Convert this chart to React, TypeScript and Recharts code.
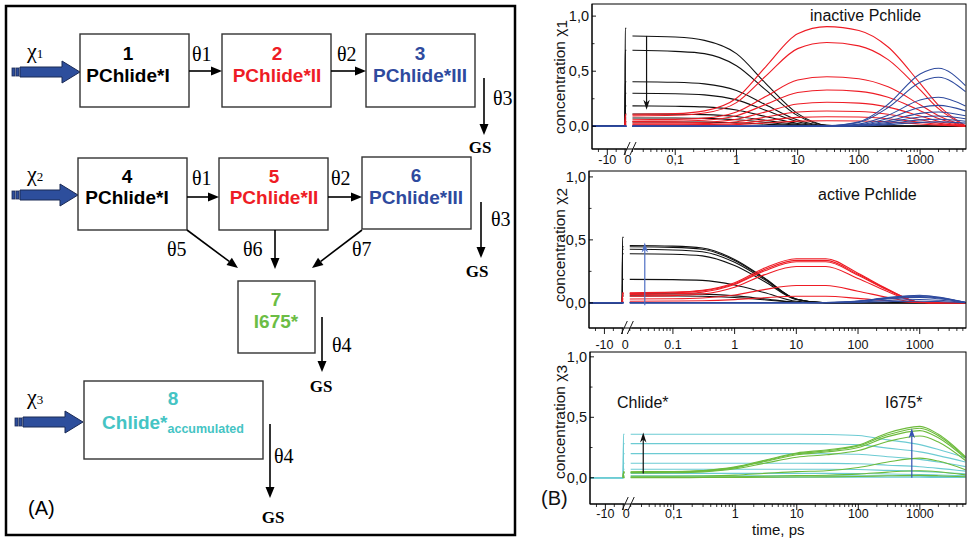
import React from "react";
import { LineChart, Line, XAxis, YAxis, ReferenceLine } from "recharts";

// Broken time axis: linear for t <= 0 ps, log10 after the break.
const LIN_ZERO = -1.82;
const LIN_SLOPE = 0.029;
const U_MIN = -2.36;
const U_MAX = 3.75;
const linU = (t: number) => LIN_ZERO + t * LIN_SLOPE;
const timeToU = (t: number) => (t <= 0 ? linU(t) : Math.log10(t));

const SANS = "'Liberation Sans', Arial, sans-serif";
const SERIF = "'Liberation Serif', 'Times New Roman', serif";

const BLACK = "#111111";
const RED = "#ee1c25";
const BLUE = "#2e4a9e";
const CYAN = "#6ccbd3";
const GREEN = "#6dbb3c";

// time points of the log part (ps)
const logTimes = [0.02, 0.1, 0.3, 1, 3, 10, 30, 100, 300, 1000, 2000, 5500];

// inactive Pchlide (chi 1)
const inactiveSpike = 0.89;
const inactiveBlack = [
  [0.82, 0.81, 0.78, 0.66, 0.39, 0.115, 0.01, 0, 0, 0, 0, 0],
  [0.69, 0.68, 0.66, 0.55, 0.33, 0.097, 0.008, 0, 0, 0, 0, 0],
  [0.405, 0.4, 0.385, 0.325, 0.195, 0.057, 0.005, 0, 0, 0, 0, 0],
  [0.3, 0.296, 0.285, 0.24, 0.145, 0.042, 0.004, 0, 0, 0, 0, 0],
  [0.185, 0.182, 0.176, 0.148, 0.089, 0.026, 0.002, 0, 0, 0, 0, 0],
  [0.112, 0.11, 0.106, 0.089, 0.054, 0.016, 0.001, 0, 0, 0, 0, 0],
  [0.076, 0.075, 0.072, 0.06, 0.036, 0.011, 0.001, 0, 0, 0, 0, 0],
  [0.04, 0.039, 0.038, 0.032, 0.019, 0.006, 0, 0, 0, 0, 0, 0],
];
const inactiveRed = [
  [0.11, 0.115, 0.14, 0.255, 0.54, 0.84, 0.905, 0.87, 0.72, 0.39, 0.19, 0.005],
  [0.095, 0.1, 0.12, 0.215, 0.455, 0.705, 0.76, 0.73, 0.605, 0.33, 0.16, 0.004],
  [0.06, 0.063, 0.074, 0.13, 0.27, 0.42, 0.45, 0.432, 0.358, 0.195, 0.095, 0.003],
  [0.045, 0.047, 0.055, 0.096, 0.198, 0.307, 0.33, 0.317, 0.263, 0.142, 0.07, 0.002],
  [0.03, 0.031, 0.037, 0.064, 0.131, 0.203, 0.218, 0.21, 0.174, 0.094, 0.046, 0.001],
  [0.02, 0.021, 0.024, 0.041, 0.084, 0.13, 0.139, 0.134, 0.11, 0.06, 0.029, 0.001],
  [0.012, 0.013, 0.015, 0.026, 0.053, 0.081, 0.087, 0.084, 0.069, 0.037, 0.018, 0],
  [0.007, 0.007, 0.009, 0.015, 0.03, 0.047, 0.05, 0.048, 0.04, 0.021, 0.011, 0],
];
const inactiveBlue = [
  [0, 0, 0, 0, 0, 0, 0.004, 0.04, 0.2, 0.475, 0.527, 0.37],
  [0, 0, 0, 0, 0, 0, 0.003, 0.034, 0.17, 0.4, 0.445, 0.315],
  [0, 0, 0, 0, 0, 0, 0.002, 0.02, 0.1, 0.238, 0.264, 0.185],
  [0, 0, 0, 0, 0, 0, 0.0015, 0.014, 0.072, 0.171, 0.19, 0.14],
  [0, 0, 0, 0, 0, 0, 0.001, 0.01, 0.05, 0.117, 0.13, 0.095],
  [0, 0, 0, 0, 0, 0, 0.001, 0.007, 0.036, 0.085, 0.094, 0.068],
  [0, 0, 0, 0, 0, 0, 0, 0.005, 0.024, 0.058, 0.064, 0.046],
  [0, 0, 0, 0, 0, 0, 0, 0.003, 0.015, 0.036, 0.04, 0.029],
];

// active Pchlide (chi 2)
const activeSpike = 0.52;
const activeBlack = [
  [0.455, 0.45, 0.435, 0.345, 0.2, 0.03, 0, 0, 0, 0, 0, 0],
  [0.445, 0.44, 0.425, 0.337, 0.195, 0.029, 0, 0, 0, 0, 0, 0],
  [0.425, 0.42, 0.406, 0.322, 0.186, 0.028, 0, 0, 0, 0, 0, 0],
  [0.39, 0.386, 0.373, 0.296, 0.171, 0.026, 0, 0, 0, 0, 0, 0],
  [0.186, 0.184, 0.178, 0.141, 0.082, 0.012, 0, 0, 0, 0, 0, 0],
  [0.072, 0.071, 0.069, 0.055, 0.032, 0.005, 0, 0, 0, 0, 0, 0],
  [0.055, 0.054, 0.052, 0.042, 0.024, 0.004, 0, 0, 0, 0, 0, 0],
];
const activeRed = [
  [0.08, 0.085, 0.1, 0.16, 0.275, 0.35, 0.35, 0.235, 0.11, 0.005, 0, 0],
  [0.075, 0.08, 0.095, 0.152, 0.262, 0.337, 0.337, 0.226, 0.106, 0.005, 0, 0],
  [0.066, 0.07, 0.085, 0.145, 0.252, 0.326, 0.326, 0.219, 0.102, 0.005, 0, 0],
  [0.053, 0.057, 0.07, 0.124, 0.222, 0.288, 0.288, 0.193, 0.09, 0.004, 0, 0],
  [0.03, 0.032, 0.038, 0.062, 0.105, 0.137, 0.137, 0.092, 0.043, 0.002, 0, 0],
  [0.013, 0.014, 0.016, 0.025, 0.04, 0.052, 0.052, 0.035, 0.016, 0.001, 0, 0],
];
const activeBlue = [
  [0, 0, 0, 0, 0, 0, 0.002, 0.014, 0.042, 0.06, 0.045, 0.004],
  [0, 0, 0, 0, 0, 0, 0.002, 0.013, 0.039, 0.056, 0.042, 0.004],
  [0, 0, 0, 0, 0, 0, 0.002, 0.012, 0.035, 0.05, 0.038, 0.003],
  [0, 0, 0, 0, 0, 0, 0.001, 0.01, 0.03, 0.043, 0.032, 0.003],
  [0, 0, 0, 0, 0, 0, 0.001, 0.006, 0.018, 0.026, 0.02, 0.002],
  [0, 0, 0, 0, 0, 0, 0, 0.003, 0.009, 0.013, 0.01, 0.001],
];

// Chlide* and I675* (chi 3)
const chlideCyan = [
  [0.36, 0.36, 0.36, 0.36, 0.36, 0.36, 0.358, 0.35, 0.313, 0.274, 0.234, 0.166],
  [0.282, 0.282, 0.282, 0.282, 0.282, 0.282, 0.28, 0.273, 0.245, 0.214, 0.183, 0.13],
  [0.2, 0.2, 0.2, 0.2, 0.2, 0.2, 0.199, 0.194, 0.174, 0.152, 0.13, 0.092],
  [0.12, 0.12, 0.12, 0.12, 0.12, 0.12, 0.119, 0.116, 0.104, 0.091, 0.078, 0.055],
  [0.07, 0.07, 0.07, 0.07, 0.07, 0.07, 0.07, 0.068, 0.061, 0.053, 0.046, 0.032],
  [0.036, 0.036, 0.036, 0.036, 0.036, 0.036, 0.036, 0.035, 0.031, 0.027, 0.023, 0.017],
  [0.017, 0.017, 0.017, 0.017, 0.017, 0.017, 0.017, 0.016, 0.015, 0.013, 0.011, 0.008],
  [0.005, 0.005, 0.005, 0.005, 0.005, 0.005, 0.005, 0.005, 0.004, 0.004, 0.003, 0.002],
];
const chlideGreen = [
  [0.05, 0.052, 0.06, 0.09, 0.145, 0.205, 0.23, 0.27, 0.37, 0.425, 0.36, 0.175],
  [0.047, 0.049, 0.057, 0.086, 0.14, 0.198, 0.222, 0.262, 0.355, 0.41, 0.348, 0.168],
  [0.044, 0.046, 0.054, 0.082, 0.134, 0.19, 0.213, 0.25, 0.34, 0.39, 0.33, 0.16],
  [0.04, 0.042, 0.049, 0.074, 0.12, 0.17, 0.19, 0.225, 0.3, 0.345, 0.295, 0.143],
  [0.012, 0.013, 0.015, 0.022, 0.036, 0.051, 0.058, 0.085, 0.13, 0.162, 0.138, 0.067],
  [0.004, 0.004, 0.005, 0.008, 0.012, 0.018, 0.021, 0.03, 0.047, 0.058, 0.05, 0.024],
  [0.001, 0.001, 0.002, 0.003, 0.004, 0.006, 0.007, 0.01, 0.016, 0.02, 0.017, 0.008],
];

// arrows inside the panels: [time ps, from, to]
const inactiveArrow = [0.034, 0.82, 0.15];
const activeArrow = [0.035, -0.02, 0.48];
const chlideArrow = [0.032, 0.035, 0.375];
const i675Arrow = [740, 0.0, 0.41];

// axis ticks
const majorTimes = [-10, 0, 0.1, 1, 10, 100, 1000];
const commaLabels = ["-10", "0", "0,1", "1", "10", "100", "1000"];
const dotLabels = ["-10", "0", "0.1", "1", "10", "100", "1000"];
const linearMinorTimes = [-15, -5];
const yMajor = [0, 0.5, 1];
const yLabels = ["0,0", "0,5", "1,0"];
const yMinor = [0.25, 0.75];

const logMinorTimes: number[] = [];
for (const dec of [0.01, 0.1, 1, 10, 100, 1000]) {
  for (let m = 2; m <= 9; m++) {
    const t = +(m * dec).toPrecision(3);
    if (t >= 0.02 && t <= 5600) logMinorTimes.push(t);
  }
}
const majorU = majorTimes.map(timeToU);
const xTicks = [...majorU, ...linearMinorTimes.map(timeToU), ...logMinorTimes.map(timeToU)].sort((a, b) => a - b);
const yTicks = [...yMajor, ...yMinor].sort((a, b) => a - b);

type Group = { id: string; color: string; curves: number[][]; spike?: number; fromZero?: boolean };

function buildRows(groups: Group[]) {
  const rows: Record<string, number | null>[] = [];
  const fill = (u: number, value: (g: Group, c: number[], i: number) => number | null) => {
    const row: Record<string, number | null> = { u };
    groups.forEach((g) => g.curves.forEach((c, i) => (row[g.id + i] = value(g, c, i))));
    rows.push(row);
  };
  fill(linU(-20), (g) => (g.fromZero ? null : 0));
  fill(linU(0), () => 0);
  fill(linU(0.1), (g, c, i) => (i === 0 && g.spike != null ? g.spike : c[0]));
  fill(linU(0.7), (g, c, i) => (i === 0 && g.spike != null ? g.spike : c[0]));
  fill((linU(0.7) + Math.log10(logTimes[0])) / 2, () => null); // axis break
  logTimes.forEach((t, k) => fill(Math.log10(t), (g, c) => c[k]));
  return rows;
}

function makeXTick(labels: string[], gap: number) {
  return (props: any) => {
    const { x, y, payload } = props;
    const idx = majorU.findIndex((u) => Math.abs(u - payload.value) < 1e-6);
    if (idx < 0) return <line x1={x} x2={x} y1={y} y2={y + 3} stroke="#000" strokeWidth={0.8} />;
    const isZero = labels[idx] === "0";
    return (
      <g>
        <line x1={x} x2={x} y1={y} y2={y + 6} stroke="#000" strokeWidth={0.9} />
        {isZero && (
          <g>
            <rect x={x + 1} y={y - 2} width={8} height={4} fill="#fff" />
            <line x1={x - 1} y1={y + 6} x2={x + 5} y2={y - 7} stroke="#000" strokeWidth={0.9} />
            <line x1={x + 5} y1={y + 6} x2={x + 11} y2={y - 7} stroke="#000" strokeWidth={0.9} />
          </g>
        )}
        <text x={x + (isZero ? 3 : 0)} y={y + gap} textAnchor="middle" fontSize={12.5} fontFamily={SANS} fill="#111">
          {labels[idx]}
        </text>
      </g>
    );
  };
}

function YTick(props: any) {
  const { x, y, payload } = props;
  const idx = yMajor.findIndex((v) => Math.abs(v - payload.value) < 1e-6);
  if (idx < 0) return <line x1={x} x2={x + 2.5} y1={y} y2={y} stroke="#000" strokeWidth={0.8} />;
  return (
    <g>
      <line x1={x} x2={x + 4} y1={y} y2={y} stroke="#000" strokeWidth={0.9} />
      <text x={x - 3} y={y + 5} textAnchor="end" fontSize={14.5} fontFamily={SANS} fill="#111">
        {yLabels[idx]}
      </text>
    </g>
  );
}

function ArrowShape(props: any) {
  const { x1, y1, x2, y2, stroke } = props;
  const dir = y2 > y1 ? 1 : -1;
  return (
    <g>
      <line x1={x1} y1={y1} x2={x2} y2={y2 - dir * 4} stroke={stroke} strokeWidth={1.2} />
      <polygon
        points={`${x2},${y2} ${x2 - 3.2},${y2 - dir * 10} ${x2},${y2 - dir * 7} ${x2 + 3.2},${y2 - dir * 10}`}
        fill={stroke}
      />
    </g>
  );
}

type PanelProps = {
  top: number;
  height: number;
  plotTop: number;
  plotBottom: number;
  plotLeft: number;
  yDomain: [number, number];
  groups: Group[];
  labels: string[];
  labelGap: number;
  arrows: { spec: number[]; color: string }[];
};

const CHART_LEFT = 540;
const CHART_WIDTH = 428;
const PLOT_RIGHT = 966;

function Panel(p: PanelProps) {
  const rows = buildRows(p.groups);
  return (
    <div style={{ position: "absolute", left: CHART_LEFT, top: p.top }}>
      <LineChart
        width={CHART_WIDTH}
        height={p.height}
        data={rows}
        margin={{ top: p.plotTop - p.top, right: CHART_LEFT + CHART_WIDTH - PLOT_RIGHT, left: 0, bottom: 0 }}
      >
        <XAxis
          dataKey="u"
          type="number"
          domain={[U_MIN, U_MAX]}
          allowDataOverflow
          ticks={xTicks}
          interval={0}
          tickSize={0}
          tickMargin={0}
          tick={makeXTick(p.labels, p.labelGap)}
          height={p.top + p.height - p.plotBottom}
          stroke="#000"
        />
        <YAxis
          type="number"
          domain={p.yDomain}
          allowDataOverflow
          ticks={yTicks}
          interval={0}
          width={p.plotLeft - CHART_LEFT}
          tickSize={0}
          tickMargin={0}
          tick={YTick}
          stroke="#000"
        />
        {p.groups.flatMap((g) =>
          g.curves.map((_, i) => (
            <Line
              key={g.id + i}
              dataKey={g.id + i}
              type="monotone"
              stroke={g.color}
              strokeWidth={1.1}
              dot={false}
              activeDot={false}
              connectNulls={false}
              isAnimationActive={false}
            />
          ))
        )}
        {p.arrows.map((a, i) => (
          <ReferenceLine
            key={"arrow" + i}
            segment={[
              { x: timeToU(a.spec[0]), y: a.spec[1] },
              { x: timeToU(a.spec[0]), y: a.spec[2] },
            ]}
            stroke={a.color}
            shape={ArrowShape}
          />
        ))}
      </LineChart>
    </div>
  );
}

function Arrow({ x1, y1, x2, y2 }: { x1: number; y1: number; x2: number; y2: number }) {
  const ang = Math.atan2(y2 - y1, x2 - x1);
  const len = 11;
  const w = 4.5;
  const bx = x2 - len * Math.cos(ang);
  const by = y2 - len * Math.sin(ang);
  const px = -Math.sin(ang) * w;
  const py = Math.cos(ang) * w;
  return (
    <g>
      <line x1={x1} y1={y1} x2={bx} y2={by} stroke="#000" strokeWidth={1.6} />
      <polygon points={`${x2},${y2} ${bx + px},${by + py} ${bx - px},${by - py}`} fill="#000" />
    </g>
  );
}

function InputArrow({ x0, x1, cy }: { x0: number; x1: number; cy: number }) {
  return (
    <g fill="#2d4e9c" stroke="#1b2a55" strokeWidth={0.8}>
      <rect x={x0} y={cy - 4} width={3} height={8} />
      <rect x={x0 + 4} y={cy - 4} width={3} height={8} />
      <polygon
        points={`${x0 + 8},${cy - 5} ${x1 - 18},${cy - 5} ${x1 - 18},${cy - 11} ${x1},${cy} ${x1 - 18},${cy + 11} ${x1 - 18},${cy + 5} ${x0 + 8},${cy + 5}`}
        strokeWidth={1}
      />
    </g>
  );
}

function Box({ x, y, w, h }: { x: number; y: number; w: number; h: number }) {
  return <rect x={x} y={y} width={w} height={h} fill="#fff" stroke="#333" strokeWidth={1.4} />;
}

function BoxText({ x, y1, y2, num, name, color }: { x: number; y1: number; y2: number; num: string; name: string; color: string }) {
  return (
    <g fontFamily={SANS} fontWeight="bold" fontSize={19} fill={color} textAnchor="middle">
      <text x={x} y={y1}>{num}</text>
      <text x={x} y={y2}>{name}</text>
    </g>
  );
}

function Theta({ x, y, n }: { x: number; y: number; n: string }) {
  return (
    <text x={x} y={y} fontFamily={SERIF} fontSize={20} fill="#000">
      θ{n}
    </text>
  );
}

function GS({ x, y }: { x: number; y: number }) {
  return (
    <text x={x} y={y} fontFamily={SERIF} fontWeight="bold" fontSize={17} textAnchor="middle" fill="#000">
      GS
    </text>
  );
}

function Chi({ x, y, n }: { x: number; y: number; n: string }) {
  return (
    <text x={x} y={y} fontFamily={SERIF} fontSize={22} fill="#000">
      χ<tspan fontSize={13}>{n}</tspan>
    </text>
  );
}

function Scheme() {
  return (
    <g>
      <rect x={6} y={6} width={509} height={529} fill="none" stroke="#000" strokeWidth={2.5} />

      <InputArrow x0={12} x1={80} cy={72} />
      <Chi x={27} y={58} n="1" />
      <Box x={80} y={34} w={109} h={73} />
      <Box x={222} y={34} w={109} h={73} />
      <Box x={366} y={34} w={109} h={73} />
      <BoxText x={128} y1={60} y2={82} num="1" name="PChlide*I" color="#000" />
      <BoxText x={277} y1={60} y2={82} num="2" name="PChlide*II" color={RED} />
      <BoxText x={420} y1={60} y2={82} num="3" name="PChlide*III" color={BLUE} />
      <Arrow x1={189} y1={71} x2={222} y2={71} />
      <Arrow x1={331} y1={71} x2={366} y2={71} />
      <Theta x={192} y={61} n="1" />
      <Theta x={337} y={61} n="2" />
      <Arrow x1={484} y1={78} x2={484} y2={135} />
      <Theta x={493} y={105} n="3" />
      <GS x={480} y={153} />

      <InputArrow x0={12} x1={78} cy={195} />
      <Chi x={27} y={181} n="2" />
      <Box x={78} y={158} w={109} h={72} />
      <Box x={219} y={158} w={109} h={72} />
      <Box x={362} y={157} w={109} h={72} />
      <BoxText x={127} y1={183} y2={204} num="4" name="PChlide*I" color="#000" />
      <BoxText x={274} y1={183} y2={204} num="5" name="PChlide*II" color={RED} />
      <BoxText x={416} y1={182} y2={204} num="6" name="PChlide*III" color={BLUE} />
      <Arrow x1={187} y1={197} x2={219} y2={197} />
      <Arrow x1={328} y1={197} x2={362} y2={197} />
      <Theta x={192} y={185} n="1" />
      <Theta x={331} y={185} n="2" />
      <Arrow x1={481} y1={202} x2={481} y2={258} />
      <Theta x={491} y={226} n="3" />
      <GS x={477} y={277} />

      <Arrow x1={187} y1={230} x2={238} y2={268} />
      <Arrow x1={275} y1={230} x2={275} y2={269} />
      <Arrow x1={362} y1={230} x2={312} y2={268} />
      <Theta x={167} y={256} n="5" />
      <Theta x={243} y={256} n="6" />
      <Theta x={352} y={256} n="7" />

      <Box x={238} y={281} w={77} h={72} />
      <BoxText x={276} y1={306} y2={328} num="7" name="I675*" color="#6cbd45" />
      <Arrow x1={322} y1={317} x2={322} y2={372} />
      <Theta x={332} y={352} n="4" />
      <GS x={321} y={392} />

      <InputArrow x0={15} x1={83} cy={422} />
      <Chi x={27} y={404} n="3" />
      <Box x={84} y={381} w={179} h={78} />
      <g fontFamily={SANS} fontWeight="bold" fill="#45c4c4" textAnchor="middle">
        <text x={173} y={405} fontSize={19}>8</text>
        <text x={173} y={429} fontSize={19}>
          Chlide*<tspan fontSize={12.5} dy={4}>accumulated</tspan>
        </text>
      </g>
      <Arrow x1={270} y1={424} x2={270} y2={498} />
      <Theta x={274} y={463} n="4" />
      <GS x={273} y={523} />

      <text x={28} y={515} fontFamily={SANS} fontSize={20} fill="#000">(A)</text>
    </g>
  );
}

function YLabel({ cy, n }: { cy: number; n: string }) {
  return (
    <text
      x={565}
      y={cy}
      transform={`rotate(-90, 565, ${cy})`}
      textAnchor="middle"
      fontFamily={SANS}
      fontSize={15.5}
      fill="#111"
    >
      concentration χ<tspan dy={2}>{n}</tspan>
    </text>
  );
}

const panels: PanelProps[] = [
  {
    top: 0,
    height: 170,
    plotTop: 4,
    plotBottom: 149,
    plotLeft: 592,
    yDomain: [-0.206, 1.11],
    labels: commaLabels,
    labelGap: 15,
    groups: [
      { id: "k", color: BLACK, curves: inactiveBlack, spike: inactiveSpike },
      { id: "r", color: RED, curves: inactiveRed, fromZero: true },
      { id: "b", color: BLUE, curves: inactiveBlue },
    ],
    arrows: [{ spec: inactiveArrow, color: "#111" }],
  },
  {
    top: 166,
    height: 186,
    plotTop: 171,
    plotBottom: 328,
    plotLeft: 589,
    yDomain: [-0.2, 1.047],
    labels: dotLabels,
    labelGap: 21,
    groups: [
      { id: "k", color: BLACK, curves: activeBlack, spike: activeSpike },
      { id: "r", color: RED, curves: activeRed, fromZero: true },
      { id: "b", color: BLUE, curves: activeBlue },
    ],
    arrows: [{ spec: activeArrow, color: "#4f6fc4" }],
  },
  {
    top: 347,
    height: 191,
    plotTop: 352,
    plotBottom: 504,
    plotLeft: 590,
    yDomain: [-0.217, 1.04],
    labels: commaLabels,
    labelGap: 13.5,
    groups: [
      { id: "c", color: CYAN, curves: chlideCyan },
      { id: "g", color: GREEN, curves: chlideGreen, fromZero: true },
    ],
    arrows: [
      { spec: chlideArrow, color: "#111" },
      { spec: i675Arrow, color: "#3552b0" },
    ],
  },
];

export default function App() {
  return (
    <div
      style={{
        position: "absolute",
        left: 0,
        top: 0,
        width: 968,
        height: 538,
        background: "#fff",
        overflow: "hidden",
        fontFamily: SANS,
      }}
    >
      {panels.map((p, i) => (
        <Panel key={i} {...p} />
      ))}
      <svg width={968} height={538} style={{ position: "absolute", left: 0, top: 0, pointerEvents: "none" }}>
        <Scheme />
        {panels.map((p, i) => (
          <rect
            key={i}
            x={p.plotLeft}
            y={p.plotTop}
            width={PLOT_RIGHT - p.plotLeft}
            height={p.plotBottom - p.plotTop}
            fill="none"
            stroke="#000"
            strokeWidth={1}
          />
        ))}
        <YLabel cy={77} n="1" />
        <YLabel cy={245} n="2" />
        <YLabel cy={422} n="3" />
        <g fontFamily={SANS} fontSize={16} fill="#111">
          <text x={810} y={21}>inactive Pchlide</text>
          <text x={818} y={200}>active Pchlide</text>
          <text x={617} y={408}>Chlide*</text>
          <text x={885} y={408}>I675*</text>
          <text x={752} y={535} fontSize={15}>time, ps</text>
          <text x={541} y={505} fontSize={20}>(B)</text>
        </g>
      </svg>
    </div>
  );
}
